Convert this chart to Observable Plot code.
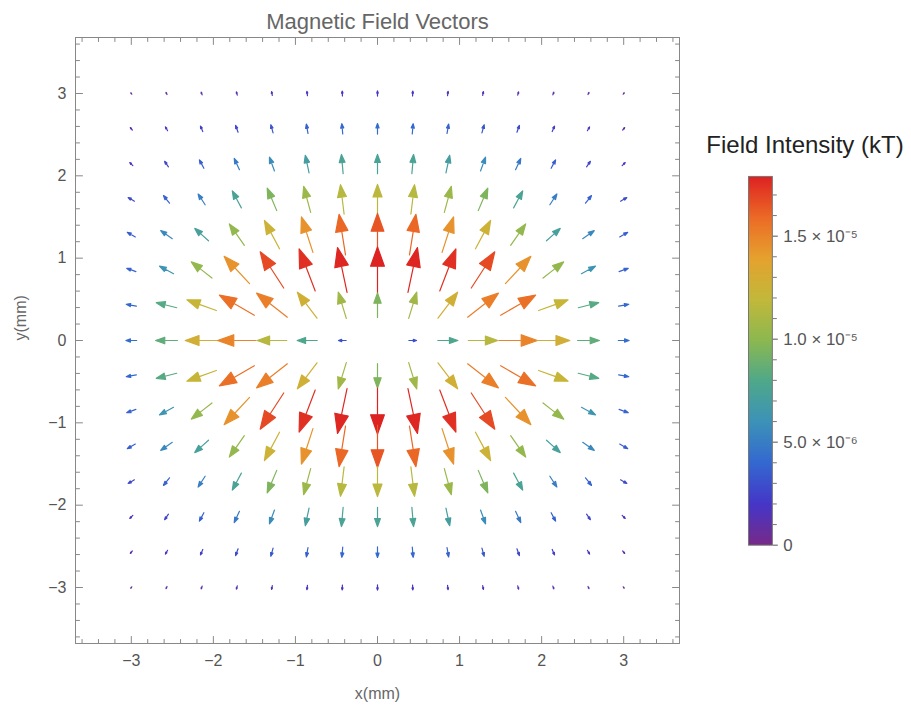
<!DOCTYPE html>
<html><head><meta charset="utf-8">
<script src="https://cdn.jsdelivr.net/npm/d3@7"></script>
<script src="https://cdn.jsdelivr.net/npm/@observablehq/plot@0.6"></script>
<style>
body{margin:0;background:#fff;}
#wrap{position:relative;width:911px;height:706px;overflow:hidden;font-family:"Liberation Sans",Arial,sans-serif;}
#main{position:absolute;left:0;top:0;}
#legendTitle{position:absolute;left:698px;top:131px;width:214px;text-align:center;font-size:24px;color:#222;white-space:nowrap;}
#legend{position:absolute;left:748px;top:166px;}
</style></head>
<body><div id="wrap"><div id="main"></div><div id="legendTitle">Field Intensity (kT)</div><div id="legend"></div></div>
<script>
// Grid positions (mm)
const xVals = [-3, -2.571, -2.143, -1.714, -1.286, -0.857, -0.429, 0, 0.429, 0.857, 1.286, 1.714, 2.143, 2.571, 3];
const yVals = [3, 2.571, 2.143, 1.714, 1.286, 0.857, 0.429, 0, -0.429, -0.857, -1.286, -1.714, -2.143, -2.571, -3];

// Field magnitude, in units of 1e-5 kT (rows top to bottom, columns left to right)
const magRows = [
  [0.07,0.09,0.11,0.13,0.15,0.17,0.19,0.20,0.19,0.17,0.15,0.13,0.11,0.09,0.07],
  [0.12,0.17,0.23,0.28,0.33,0.37,0.40,0.41,0.40,0.37,0.33,0.28,0.23,0.17,0.12],
  [0.17,0.26,0.37,0.48,0.57,0.70,0.75,0.75,0.75,0.70,0.57,0.48,0.37,0.26,0.17],
  [0.28,0.38,0.50,0.75,0.95,1.05,1.15,1.17,1.15,1.05,0.95,0.75,0.50,0.38,0.28],
  [0.36,0.55,0.72,1.02,1.25,1.45,1.60,1.65,1.60,1.45,1.25,1.02,0.72,0.55,0.36],
  [0.38,0.62,1.02,1.45,1.68,1.75,1.78,1.79,1.78,1.75,1.68,1.45,1.02,0.62,0.38],
  [0.40,0.82,1.22,1.57,1.52,1.27,1.07,0.95,1.07,1.27,1.52,1.57,1.22,0.82,0.40],
  [0.42,0.85,1.28,1.50,1.15,0.78,0.30,0,0.30,0.78,1.15,1.50,1.28,0.85,0.42],
  [0.40,0.82,1.22,1.57,1.52,1.27,1.07,0.95,1.07,1.27,1.52,1.57,1.22,0.82,0.40],
  [0.38,0.62,1.02,1.45,1.68,1.75,1.78,1.79,1.78,1.75,1.68,1.45,1.02,0.62,0.38],
  [0.36,0.55,0.72,1.02,1.25,1.45,1.60,1.65,1.60,1.45,1.25,1.02,0.72,0.55,0.36],
  [0.28,0.38,0.50,0.75,0.95,1.05,1.15,1.17,1.15,1.05,0.95,0.75,0.50,0.38,0.28],
  [0.17,0.26,0.37,0.48,0.57,0.70,0.75,0.75,0.75,0.70,0.57,0.48,0.37,0.26,0.17],
  [0.12,0.17,0.23,0.28,0.33,0.37,0.40,0.41,0.40,0.37,0.33,0.28,0.23,0.17,0.12],
  [0.07,0.09,0.11,0.13,0.15,0.17,0.19,0.20,0.19,0.17,0.15,0.13,0.11,0.09,0.07]
];

// Field direction, degrees counter-clockwise from +x
const angRows = [
  [125,115,110,105,100,97,93,90,87,83,80,75,70,65,55],
  [130,120,113,110,105,100,95,90,85,80,75,70,67,60,50],
  [135,125,118,115,110,102,95,90,85,78,70,65,62,55,45],
  [150,128,123,118,113,105,97,90,83,75,67,62,57,52,30],
  [150,145,138,125,118,108,99,90,81,72,62,55,42,35,30],
  [160,152,142,133,123,111,102,90,78,69,57,47,38,28,20],
  [170,166,160,150,142,127,107,90,73,53,38,30,20,14,10],
  [180,180,180,180,180,180,180,0,0,0,0,0,0,0,0],
  [-170,-166,-160,-150,-142,-127,-107,-90,-73,-53,-38,-30,-20,-14,-10],
  [-160,-152,-142,-133,-123,-111,-102,-90,-78,-69,-57,-47,-38,-28,-20],
  [-150,-145,-138,-125,-118,-108,-99,-90,-81,-72,-62,-55,-42,-35,-30],
  [-150,-128,-123,-118,-113,-105,-97,-90,-83,-75,-67,-62,-57,-52,-30],
  [-135,-125,-118,-115,-110,-102,-95,-90,-85,-78,-70,-65,-62,-55,-45],
  [-130,-120,-113,-110,-105,-100,-95,-90,-85,-80,-75,-70,-67,-60,-50],
  [-125,-115,-110,-105,-100,-97,-93,-90,-87,-83,-80,-75,-70,-65,-55]
];

// Axes
const axisDomain = [-3.68, 3.68];
const majorTicks = [-3, -2, -1, 0, 1, 2, 3];
const minorTicks = [-3.6,-3.4,-3.2,-2.8,-2.6,-2.4,-2.2,-1.8,-1.6,-1.4,-1.2,-0.8,-0.6,-0.4,-0.2,
                    0.2,0.4,0.6,0.8,1.2,1.4,1.6,1.8,2.2,2.4,2.6,2.8,3.2,3.4,3.6];

// Colour legend (values in 1e-5 kT)
const legendMax = 1.79;
const legendMajorTicks = [0, 0.5, 1.0, 1.5];
const legendLabels = ["0", "5.0 \u00d7 10\u207b\u2076", "1.0 \u00d7 10\u207b\u2075", "1.5 \u00d7 10\u207b\u2075"];
const legendMinorTicks = [0.1,0.2,0.3,0.4,0.6,0.7,0.8,0.9,1.1,1.2,1.3,1.4,1.6,1.7];
const rainbowDomain = [0, 0.199, 0.398, 0.597, 0.796, 0.994, 1.193, 1.392, 1.591, 1.79];
const rainbowColors = ["#782a88","#4536c8","#3468d0","#3c92b8","#4fa88a","#8cb850","#c2b83a","#e5a22e","#ec6a26","#dd2222"];

const field = [];
yVals.forEach((yv, i) => xVals.forEach((xv, j) => {
  if (magRows[i][j] > 0) field.push({x: xv, y: yv, mag: magRows[i][j], ang: angRows[i][j]});
}));

const colorOpts = {type: "linear", domain: rainbowDomain, range: rainbowColors, interpolate: "rgb"};

const arrowShape = {
  draw(context, l) {
    const h = l * 0.42, w = l * 0.15;
    context.moveTo(0, 0);
    context.lineTo(0, -l + h);
    context.moveTo(0, -l);
    context.lineTo(w, -l + h);
    context.lineTo(-w, -l + h);
    context.closePath();
  }
};
const tickShape = {draw(context, l) { context.moveTo(0, 0); context.lineTo(0, -l); }};
const frameColor = "#888";

function tickMarks(values, len) {
  return [
    Plot.vector(values, {x: d => d, frameAnchor: "bottom", anchor: "start", rotate: 0, length: len, shape: tickShape, stroke: frameColor, strokeWidth: 1}),
    Plot.vector(values, {x: d => d, frameAnchor: "top", anchor: "start", rotate: 180, length: len, shape: tickShape, stroke: frameColor, strokeWidth: 1}),
    Plot.vector(values, {y: d => d, frameAnchor: "left", anchor: "start", rotate: 90, length: len, shape: tickShape, stroke: frameColor, strokeWidth: 1}),
    Plot.vector(values, {y: d => d, frameAnchor: "right", anchor: "start", rotate: -90, length: len, shape: tickShape, stroke: frameColor, strokeWidth: 1})
  ];
}

const main = Plot.plot({
  width: 911, height: 706,
  marginLeft: 75, marginRight: 232, marginTop: 37, marginBottom: 63,
  x: {domain: axisDomain, axis: null},
  y: {domain: axisDomain, axis: null},
  color: colorOpts,
  length: {type: "linear", domain: [0, legendMax], range: [0, 46]},
  style: {fontFamily: "Liberation Sans, Arial, sans-serif", background: "white"},
  marks: [
    Plot.frame({stroke: frameColor, strokeWidth: 1}),
    ...tickMarks(majorTicks, 7),
    ...tickMarks(minorTicks, 4),
    Plot.axisX({anchor: "bottom", ticks: majorTicks, tickSize: 0, tickPadding: 11, fontSize: 16, color: "#555", label: null}),
    Plot.axisY({anchor: "left", ticks: majorTicks, tickSize: 0, tickPadding: 9, fontSize: 16, color: "#555", label: null}),
    Plot.vector(field, {
      x: "x", y: "y", length: "mag", rotate: d => 90 - d.ang,
      stroke: "mag", fill: "mag", anchor: "middle", shape: arrowShape,
      strokeWidth: 1.2, strokeLinejoin: "round"
    }),
    Plot.text(["Magnetic Field Vectors"], {frameAnchor: "top", lineAnchor: "middle", dy: -16, text: d => d, fontSize: 22, fill: "#666"}),
    Plot.text(["x(mm)"], {frameAnchor: "bottom", lineAnchor: "middle", dy: 50, text: d => d, fontSize: 16, fill: "#666"}),
    Plot.text(["y(mm)"], {frameAnchor: "left", dx: -55, rotate: -90, text: d => d, fontSize: 16, fill: "#666"})
  ]
});
document.getElementById("main").appendChild(main);

const legend = Plot.plot({
  width: 164, height: 391,
  marginLeft: 0, marginRight: 140, marginTop: 10, marginBottom: 10,
  x: {domain: [0, 1], axis: null},
  y: {domain: [0, legendMax], axis: null},
  color: colorOpts,
  style: {fontFamily: "Liberation Sans, Arial, sans-serif", background: "transparent", overflow: "visible"},
  marks: [
    Plot.raster({x1: 0, x2: 1, y1: 0, y2: legendMax, width: 1, height: 256, fill: (x, y) => y, imageRendering: "auto"}),
    Plot.frame({stroke: "#777", strokeWidth: 1}),
    Plot.axisY({anchor: "right", ticks: legendMinorTicks, tickSize: 4, tickFormat: () => "", color: "#777", label: null}),
    Plot.axisY({anchor: "right", ticks: legendMajorTicks, tickSize: 5, tickPadding: 6,
      tickFormat: d => legendLabels[legendMajorTicks.indexOf(d)], fontSize: 17, color: "#555", label: null})
  ]
});
document.getElementById("legend").appendChild(legend);
</script></body></html>
